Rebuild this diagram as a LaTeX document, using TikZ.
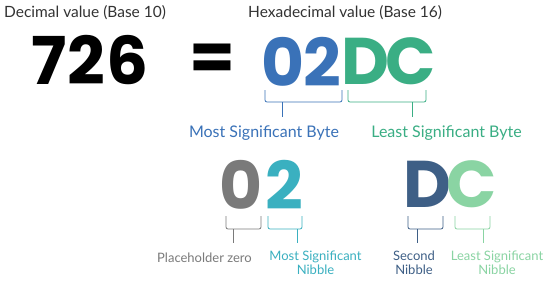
\documentclass[tikz,border=0pt]{standalone}
\usepackage{fontspec}
\setmainfont{Lato}
\newfontfamily\bigfont{Poppins}
\definecolor{ink}{HTML}{333333}
\definecolor{hexblue}{HTML}{3A72B8}
\definecolor{hexgreen}{HTML}{3AAE84}
\definecolor{zgray}{HTML}{7A7A7A}
\definecolor{teal}{HTML}{3AB0C0}
\definecolor{dblue}{HTML}{3E5F86}
\definecolor{lgreen}{HTML}{8AD4A3}
\begin{document}
\begin{tikzpicture}[x=1pt,y=-1pt,
  big/.style={inner sep=0pt,font=\bigfont\bfseries\fontsize{66}{66}\selectfont},
  small/.style={inner sep=0pt,font=\fontsize{13}{14}\selectfont,align=center},
  head/.style={inner sep=0pt,font=\fontsize{15.5}{17}\selectfont,text=ink},
  lab/.style={inner sep=0pt,font=\fontsize{16}{18}\selectfont},
  stem/.style={line width=0.8pt},
  brace/.style={line width=0.8pt,rounded corners=2pt}]
\useasboundingbox[fill=white] (0,0) rectangle (550,282);
% headings
\node[head,anchor=west] (dec) at (4,13) {Decimal value (Base 10)};
\node[head,anchor=west] (hex) at (248,13) {Hexadecimal value (Base 16)};
% 726 =
\node[big] (d7) at (49.5,60) {7};
\node[big] (d2) at (86.5,60) {2};
\node[big] (d6) at (127.5,60) {6};
\node[big] (eq) at (212.5,62) {=};
% 02DC
\node[big,text=hexblue] (h0) at (283.5,61.5) {0};
\node[big,text=hexblue] (h2) at (322.5,61.5) {2};
\node[big,text=hexgreen] (hD) at (365.5,61.5) {D};
\node[big,text=hexgreen] (hC) at (411,61.5) {C};
% byte braces
\draw[brace,hexblue] (265,90) -- (265,102) -- (342,102) -- (342,90);
\coordinate (bs1) at (282,102);
\coordinate (be1) at (282,117);
\draw[stem,hexblue] (bs1) -- (be1);
\draw[brace,hexgreen] (348,90) -- (348,102) -- (426,102) -- (426,90);
\coordinate (bs2) at (412,102);
\coordinate (be2) at (412,117);
\draw[stem,hexgreen] (bs2) -- (be2);
\node[lab,text=hexblue] (msb) at (264,133) {Most Significant Byte};
\node[lab,text=hexgreen] (lsb) at (446.5,133) {Least Significant Byte};
% nibbles
\node[big,text=zgray] (l0) at (241.5,184.5) {0};
\node[big,text=teal] (l2) at (284.5,184.5) {2};
\node[big,text=dblue] (lD) at (427.5,184.5) {D};
\node[big,text=lgreen] (lC) at (471.5,184.5) {C};
% nibble braces
\draw[brace,zgray] (226,216) -- (226,229) -- (261,229) -- (261,216);
\coordinate (ns1) at (233,229); \coordinate (ne1) at (233,243);
\draw[stem,zgray] (ns1) -- (ne1);
\draw[brace,teal] (268,216) -- (268,229) -- (302,229) -- (302,216);
\coordinate (ns2) at (297,229); \coordinate (ne2) at (297,243);
\draw[stem,teal] (ns2) -- (ne2);
\draw[brace,dblue] (408,216) -- (408,229) -- (443,229) -- (443,216);
\coordinate (ns3) at (417,229); \coordinate (ne3) at (417,243);
\draw[stem,dblue] (ns3) -- (ne3);
\draw[brace,lgreen] (455,216) -- (455,229) -- (490,229) -- (490,216);
\coordinate (ns4) at (483,229); \coordinate (ne4) at (483,243);
\draw[stem,lgreen] (ns4) -- (ne4);
% nibble labels
\node[small,text=zgray] (pz) at (204.5,258) {Placeholder zero};
\node[small,text=teal,anchor=north] (msn) at (315.5,250.5) {Most Significant\\Nibble};
\node[small,text=dblue,anchor=north] (sn) at (414,250.5) {Second\\Nibble};
\node[small,text=lgreen,anchor=north] (lsn) at (497,250.5) {Least Significant\\Nibble};
\end{tikzpicture}
\end{document}
